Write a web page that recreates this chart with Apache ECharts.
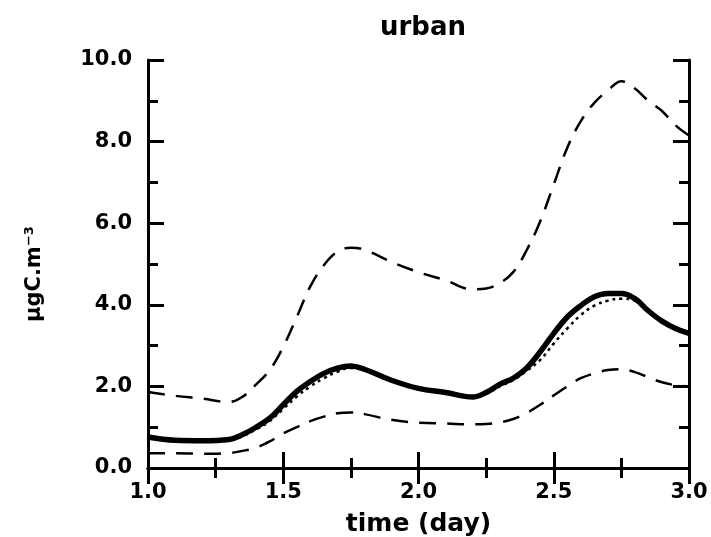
<!DOCTYPE html>
<html>
<head>
<meta charset="utf-8">
<script src="https://cdn.jsdelivr.net/npm/echarts@6/dist/echarts.min.js"></script>
<style>html,body{margin:0;padding:0;background:#fff}#c{width:711px;height:537px}</style>
</head>
<body>
<div id="c"></div>
<script>
var time = [1.0,1.1,1.2,1.3,1.35,1.4,1.45,1.5,1.55,1.6,1.65,1.7,1.75,1.8,1.9,2.0,2.1,2.2,2.25,2.3,2.35,2.4,2.45,2.5,2.55,2.6,2.65,2.7,2.75,2.8,2.85,2.9,2.95,3.0];
var upperDashed = [1.86,1.77,1.70,1.62,1.75,2.05,2.40,2.97,3.70,4.45,4.97,5.30,5.40,5.35,5.05,4.80,4.60,4.38,4.40,4.53,4.80,5.34,6.05,6.95,7.85,8.50,8.95,9.25,9.48,9.30,9.00,8.75,8.40,8.15];
var solidMain = [0.76,0.68,0.67,0.70,0.82,1.00,1.22,1.55,1.88,2.12,2.32,2.45,2.50,2.42,2.15,1.95,1.85,1.74,1.85,2.05,2.20,2.45,2.85,3.30,3.70,3.98,4.20,4.28,4.28,4.15,3.85,3.60,3.42,3.30];
var dotted = [0.74,0.67,0.66,0.68,0.78,0.95,1.15,1.45,1.75,2.00,2.20,2.36,2.45,2.40,2.15,1.95,1.85,1.74,1.82,2.00,2.15,2.38,2.65,3.05,3.42,3.75,3.98,4.10,4.15,4.10,3.85,3.60,3.42,3.30];
var lowerDashed = [0.36,0.36,0.35,0.37,0.42,0.50,0.65,0.85,1.00,1.15,1.26,1.34,1.36,1.32,1.18,1.11,1.09,1.07,1.08,1.12,1.20,1.35,1.55,1.78,2.00,2.20,2.32,2.40,2.42,2.35,2.22,2.10,2.03,2.00];
var titleText = 'urban';
var xName = 'time (day)';
var yName = 'µgC.m⁻³';

function pairs(v){ return time.map(function(t,i){ return [t, v[i]]; }); }
var FONT = 'DejaVu Sans';
var chart = echarts.init(document.getElementById('c'));
var axisBase = {
  type: 'value',
  axisLine: { show: true, lineStyle: { color: '#000', width: 3 } },
  axisTick: { show: true, inside: true, length: 16, lineStyle: { color: '#000', width: 3 } },
  minorTick: { show: true, splitNumber: 2, length: 10, lineStyle: { color: '#000', width: 3 } },
  splitLine: { show: false },
  minorSplitLine: { show: false }
};
function ax(extra){ return Object.assign({}, JSON.parse(JSON.stringify(axisBase)), extra); }
chart.setOption({
  animation: false,
  backgroundColor: '#fff',
  title: { text: titleText, left: 418, top: 10, textAlign: 'center',
    textStyle: { fontFamily: FONT, fontSize: 26, fontWeight: 'bold', color: '#000' } },
  grid: { left: 148, right: 22, top: 60, bottom: 69, containLabel: false, outerBoundsMode: 'none' },
  xAxis: [
    ax({ position: 'bottom', min: 1, max: 3, interval: 0.5,
      name: xName, nameLocation: 'middle', nameGap: 44,
      nameTextStyle: { fontFamily: FONT, fontSize: 25, fontWeight: 'bold', color: '#000' },
      axisLabel: { margin: 14, fontFamily: FONT, fontSize: 21, fontWeight: 'bold', color: '#000',
        formatter: function(v){ return v.toFixed(1); } } }),
    ax({ position: 'top', min: 1, max: 3, interval: 0.5, axisLabel: { show: false } })
  ],
  yAxis: [
    ax({ position: 'left', min: 0, max: 10, interval: 2,
      name: yName, nameLocation: 'middle', nameGap: 103, nameRotate: 90,
      nameTextStyle: { fontFamily: FONT, fontSize: 21, fontWeight: 'bold', color: '#000', padding: [0, 20, 0, 0] },
      axisLabel: { margin: 16, fontFamily: FONT, fontSize: 21, fontWeight: 'bold', color: '#000',
        formatter: function(v){ return v.toFixed(1); } } }),
    ax({ position: 'right', min: 0, max: 10, interval: 2, axisLabel: { show: false } })
  ],
  series: [
    { type: 'line', data: pairs(upperDashed), smooth: 0.4, showSymbol: false,
      lineStyle: { color: '#000', width: 2.5, type: [17, 11] } },
    { type: 'line', data: pairs(lowerDashed), smooth: 0.4, showSymbol: false,
      lineStyle: { color: '#000', width: 2.5, type: [17, 11] } },
    { type: 'line', data: pairs(dotted), smooth: 0.4, showSymbol: false,
      lineStyle: { color: '#000', width: 2.5, type: [3, 4] } },
    { type: 'line', data: pairs(solidMain), smooth: 0.4, showSymbol: false,
      lineStyle: { color: '#000', width: 5.5 } }
  ]
});
</script>
</body>
</html>
